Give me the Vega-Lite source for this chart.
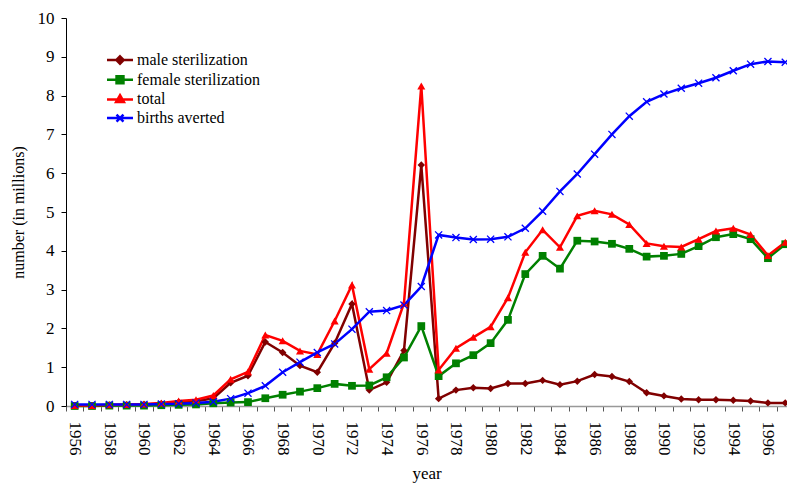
{
  "$schema": "https://vega.github.io/schema/vega-lite/v6.json",
  "width": 721,
  "height": 388,
  "autosize": "none",
  "padding": {"left": 66, "top": 18, "right": 0, "bottom": 78},
  "background": "white",
  "config": {
    "view": {"stroke": null},
    "font": "'Liberation Serif', 'Times New Roman', serif"
  },
  "data": {
    "values": [
      {"year": 1956, "series": "male sterilization", "value": 0.01},
      {"year": 1957, "series": "male sterilization", "value": 0.01},
      {"year": 1958, "series": "male sterilization", "value": 0.02},
      {"year": 1959, "series": "male sterilization", "value": 0.03},
      {"year": 1960, "series": "male sterilization", "value": 0.04},
      {"year": 1961, "series": "male sterilization", "value": 0.06},
      {"year": 1962, "series": "male sterilization", "value": 0.1},
      {"year": 1963, "series": "male sterilization", "value": 0.12},
      {"year": 1964, "series": "male sterilization", "value": 0.2},
      {"year": 1965, "series": "male sterilization", "value": 0.6},
      {"year": 1966, "series": "male sterilization", "value": 0.78},
      {"year": 1967, "series": "male sterilization", "value": 1.65},
      {"year": 1968, "series": "male sterilization", "value": 1.38},
      {"year": 1969, "series": "male sterilization", "value": 1.04},
      {"year": 1970, "series": "male sterilization", "value": 0.87},
      {"year": 1971, "series": "male sterilization", "value": 1.62},
      {"year": 1972, "series": "male sterilization", "value": 2.63},
      {"year": 1973, "series": "male sterilization", "value": 0.41},
      {"year": 1974, "series": "male sterilization", "value": 0.61},
      {"year": 1975, "series": "male sterilization", "value": 1.43},
      {"year": 1976, "series": "male sterilization", "value": 6.21},
      {"year": 1977, "series": "male sterilization", "value": 0.19},
      {"year": 1978, "series": "male sterilization", "value": 0.41},
      {"year": 1979, "series": "male sterilization", "value": 0.47},
      {"year": 1980, "series": "male sterilization", "value": 0.45},
      {"year": 1981, "series": "male sterilization", "value": 0.58},
      {"year": 1982, "series": "male sterilization", "value": 0.58},
      {"year": 1983, "series": "male sterilization", "value": 0.66},
      {"year": 1984, "series": "male sterilization", "value": 0.55},
      {"year": 1985, "series": "male sterilization", "value": 0.64},
      {"year": 1986, "series": "male sterilization", "value": 0.81},
      {"year": 1987, "series": "male sterilization", "value": 0.76},
      {"year": 1988, "series": "male sterilization", "value": 0.63},
      {"year": 1989, "series": "male sterilization", "value": 0.34},
      {"year": 1990, "series": "male sterilization", "value": 0.26},
      {"year": 1991, "series": "male sterilization", "value": 0.18},
      {"year": 1992, "series": "male sterilization", "value": 0.16},
      {"year": 1993, "series": "male sterilization", "value": 0.16},
      {"year": 1994, "series": "male sterilization", "value": 0.15},
      {"year": 1995, "series": "male sterilization", "value": 0.13},
      {"year": 1996, "series": "male sterilization", "value": 0.08},
      {"year": 1997, "series": "male sterilization", "value": 0.08},
      {"year": 1956, "series": "female sterilization", "value": 0.0},
      {"year": 1957, "series": "female sterilization", "value": 0.0},
      {"year": 1958, "series": "female sterilization", "value": 0.01},
      {"year": 1959, "series": "female sterilization", "value": 0.01},
      {"year": 1960, "series": "female sterilization", "value": 0.01},
      {"year": 1961, "series": "female sterilization", "value": 0.02},
      {"year": 1962, "series": "female sterilization", "value": 0.03},
      {"year": 1963, "series": "female sterilization", "value": 0.04},
      {"year": 1964, "series": "female sterilization", "value": 0.07},
      {"year": 1965, "series": "female sterilization", "value": 0.09},
      {"year": 1966, "series": "female sterilization", "value": 0.1},
      {"year": 1967, "series": "female sterilization", "value": 0.2},
      {"year": 1968, "series": "female sterilization", "value": 0.29},
      {"year": 1969, "series": "female sterilization", "value": 0.37},
      {"year": 1970, "series": "female sterilization", "value": 0.46},
      {"year": 1971, "series": "female sterilization", "value": 0.57},
      {"year": 1972, "series": "female sterilization", "value": 0.52},
      {"year": 1973, "series": "female sterilization", "value": 0.53},
      {"year": 1974, "series": "female sterilization", "value": 0.74},
      {"year": 1975, "series": "female sterilization", "value": 1.25},
      {"year": 1976, "series": "female sterilization", "value": 2.06},
      {"year": 1977, "series": "female sterilization", "value": 0.77},
      {"year": 1978, "series": "female sterilization", "value": 1.1},
      {"year": 1979, "series": "female sterilization", "value": 1.31},
      {"year": 1980, "series": "female sterilization", "value": 1.62},
      {"year": 1981, "series": "female sterilization", "value": 2.22},
      {"year": 1982, "series": "female sterilization", "value": 3.4},
      {"year": 1983, "series": "female sterilization", "value": 3.87},
      {"year": 1984, "series": "female sterilization", "value": 3.54},
      {"year": 1985, "series": "female sterilization", "value": 4.26},
      {"year": 1986, "series": "female sterilization", "value": 4.24},
      {"year": 1987, "series": "female sterilization", "value": 4.18},
      {"year": 1988, "series": "female sterilization", "value": 4.05},
      {"year": 1989, "series": "female sterilization", "value": 3.85},
      {"year": 1990, "series": "female sterilization", "value": 3.87},
      {"year": 1991, "series": "female sterilization", "value": 3.92},
      {"year": 1992, "series": "female sterilization", "value": 4.12},
      {"year": 1993, "series": "female sterilization", "value": 4.35},
      {"year": 1994, "series": "female sterilization", "value": 4.43},
      {"year": 1995, "series": "female sterilization", "value": 4.3},
      {"year": 1996, "series": "female sterilization", "value": 3.81},
      {"year": 1997, "series": "female sterilization", "value": 4.17},
      {"year": 1956, "series": "total", "value": 0.01},
      {"year": 1957, "series": "total", "value": 0.01},
      {"year": 1958, "series": "total", "value": 0.03},
      {"year": 1959, "series": "total", "value": 0.04},
      {"year": 1960, "series": "total", "value": 0.05},
      {"year": 1961, "series": "total", "value": 0.08},
      {"year": 1962, "series": "total", "value": 0.13},
      {"year": 1963, "series": "total", "value": 0.16},
      {"year": 1964, "series": "total", "value": 0.27},
      {"year": 1965, "series": "total", "value": 0.69},
      {"year": 1966, "series": "total", "value": 0.88},
      {"year": 1967, "series": "total", "value": 1.83},
      {"year": 1968, "series": "total", "value": 1.68},
      {"year": 1969, "series": "total", "value": 1.42},
      {"year": 1970, "series": "total", "value": 1.33},
      {"year": 1971, "series": "total", "value": 2.19},
      {"year": 1972, "series": "total", "value": 3.12},
      {"year": 1973, "series": "total", "value": 0.95},
      {"year": 1974, "series": "total", "value": 1.36},
      {"year": 1975, "series": "total", "value": 2.65},
      {"year": 1976, "series": "total", "value": 8.25},
      {"year": 1977, "series": "total", "value": 0.93},
      {"year": 1978, "series": "total", "value": 1.49},
      {"year": 1979, "series": "total", "value": 1.77},
      {"year": 1980, "series": "total", "value": 2.04},
      {"year": 1981, "series": "total", "value": 2.79},
      {"year": 1982, "series": "total", "value": 3.96},
      {"year": 1983, "series": "total", "value": 4.54},
      {"year": 1984, "series": "total", "value": 4.09},
      {"year": 1985, "series": "total", "value": 4.9},
      {"year": 1986, "series": "total", "value": 5.03},
      {"year": 1987, "series": "total", "value": 4.94},
      {"year": 1988, "series": "total", "value": 4.68},
      {"year": 1989, "series": "total", "value": 4.19},
      {"year": 1990, "series": "total", "value": 4.12},
      {"year": 1991, "series": "total", "value": 4.1},
      {"year": 1992, "series": "total", "value": 4.3},
      {"year": 1993, "series": "total", "value": 4.51},
      {"year": 1994, "series": "total", "value": 4.58},
      {"year": 1995, "series": "total", "value": 4.42},
      {"year": 1996, "series": "total", "value": 3.88},
      {"year": 1997, "series": "total", "value": 4.22},
      {"year": 1956, "series": "births averted", "value": 0.04},
      {"year": 1957, "series": "births averted", "value": 0.04},
      {"year": 1958, "series": "births averted", "value": 0.04},
      {"year": 1959, "series": "births averted", "value": 0.04},
      {"year": 1960, "series": "births averted", "value": 0.04},
      {"year": 1961, "series": "births averted", "value": 0.05},
      {"year": 1962, "series": "births averted", "value": 0.06},
      {"year": 1963, "series": "births averted", "value": 0.08},
      {"year": 1964, "series": "births averted", "value": 0.11},
      {"year": 1965, "series": "births averted", "value": 0.19},
      {"year": 1966, "series": "births averted", "value": 0.33},
      {"year": 1967, "series": "births averted", "value": 0.52},
      {"year": 1968, "series": "births averted", "value": 0.87},
      {"year": 1969, "series": "births averted", "value": 1.13},
      {"year": 1970, "series": "births averted", "value": 1.38},
      {"year": 1971, "series": "births averted", "value": 1.6},
      {"year": 1972, "series": "births averted", "value": 1.98},
      {"year": 1973, "series": "births averted", "value": 2.43},
      {"year": 1974, "series": "births averted", "value": 2.46},
      {"year": 1975, "series": "births averted", "value": 2.6},
      {"year": 1976, "series": "births averted", "value": 3.08},
      {"year": 1977, "series": "births averted", "value": 4.41},
      {"year": 1978, "series": "births averted", "value": 4.34},
      {"year": 1979, "series": "births averted", "value": 4.29},
      {"year": 1980, "series": "births averted", "value": 4.3},
      {"year": 1981, "series": "births averted", "value": 4.36},
      {"year": 1982, "series": "births averted", "value": 4.58},
      {"year": 1983, "series": "births averted", "value": 5.02},
      {"year": 1984, "series": "births averted", "value": 5.53},
      {"year": 1985, "series": "births averted", "value": 5.98},
      {"year": 1986, "series": "births averted", "value": 6.49},
      {"year": 1987, "series": "births averted", "value": 7.0},
      {"year": 1988, "series": "births averted", "value": 7.47},
      {"year": 1989, "series": "births averted", "value": 7.84},
      {"year": 1990, "series": "births averted", "value": 8.04},
      {"year": 1991, "series": "births averted", "value": 8.19},
      {"year": 1992, "series": "births averted", "value": 8.32},
      {"year": 1993, "series": "births averted", "value": 8.46},
      {"year": 1994, "series": "births averted", "value": 8.64},
      {"year": 1995, "series": "births averted", "value": 8.81},
      {"year": 1996, "series": "births averted", "value": 8.88},
      {"year": 1997, "series": "births averted", "value": 8.86}
    ]
  },
  "encoding": {
    "x": {
      "field": "year",
      "type": "quantitative",
      "scale": {"domain": [1955.5, 1997.1], "nice": false, "zero": false},
      "axis": {
        "title": "year",
        "values": [1956,1957,1958,1959,1960,1961,1962,1963,1964,1965,1966,1967,1968,1969,1970,1971,1972,1973,1974,1975,1976,1977,1978,1979,1980,1981,1982,1983,1984,1985,1986,1987,1988,1989,1990,1991,1992,1993,1994,1995,1996,1997],
        "format": "d",
        "labelExpr": "datum.value % 2 == 0 ? datum.label : ''",
        "tickOffset": -8.66,
        "labelOffset": 8.66,
        "labelAngle": 90,
        "labelAlign": "left",
        "labelBaseline": "middle",
        "labelOverlap": false,
        "labelFlush": false,
        "labelBound": false,
        "labelFont": "'Liberation Serif', 'Times New Roman', serif",
        "labelFontSize": 17,
        "labelColor": "black",
        "labelPadding": 10,
        "tickSize": 5,
        "tickColor": "#555555",
        "tickWidth": 1,
        "domainColor": "#999999",
        "domainWidth": 1.5,
        "grid": false,
        "titleFont": "'Liberation Serif', 'Times New Roman', serif",
        "titleFontSize": 17,
        "titleFontWeight": "normal",
        "titleColor": "black",
        "titlePadding": 10
      }
    },
    "y": {
      "field": "value",
      "type": "quantitative",
      "scale": {"domain": [0, 10], "nice": false},
      "axis": {
        "title": "number (in millions)",
        "values": [0,1,2,3,4,5,6,7,8,9,10],
        "labelFont": "'Liberation Serif', 'Times New Roman', serif",
        "labelFontSize": 17,
        "labelColor": "black",
        "labelPadding": 7,
        "tickSize": 5,
        "tickColor": "black",
        "domainColor": "black",
        "grid": false,
        "titleFont": "'Liberation Serif', 'Times New Roman', serif",
        "titleFontSize": 16,
        "titleFontWeight": "normal",
        "titleColor": "black",
        "titlePadding": 11
      }
    }
  },
  "layer": [
    {
      "mark": {"type": "line", "strokeWidth": 2.5},
      "encoding": {
        "color": {
          "field": "series",
          "type": "nominal",
          "scale": {
            "domain": ["male sterilization", "female sterilization", "total", "births averted"],
            "range": ["#800000", "#008000", "#ff0000", "#0000ff"]
          },
          "legend": {
            "orient": "none",
            "legendX": 44,
            "legendY": 32,
            "title": null,
            "padding": 0,
            "labelFont": "'Liberation Serif', 'Times New Roman', serif",
            "labelFontSize": 16,
            "labelColor": "black",
            "labelOffset": 7,
            "symbolSize": 300,
            "symbolStrokeWidth": 2.5,
            "rowPadding": 0.7
          }
        },
        "order": {"field": "year", "type": "quantitative"}
      }
    },
    {
      "transform": [{"filter": "datum.year < 0"}],
      "mark": {"type": "point", "filled": true, "opacity": 1},
      "encoding": {
        "color": {"field": "series", "type": "nominal"},
        "shape": {
          "field": "series",
          "type": "nominal",
          "scale": {
            "domain": ["male sterilization", "female sterilization", "total", "births averted"],
            "range": [
              "M-1.5,0H1.5M0,-0.42L0.42,0L0,0.42L-0.42,0Z",
              "M-1.5,0H1.5M-0.4,-0.4H0.4V0.4H-0.4Z",
              "M-1.5,0H1.5M0,-0.48L0.45,0.3L-0.45,0.3Z",
              "M-1.5,0H1.5M-0.4,-0.4L0.4,0.4M-0.4,0.4L0.4,-0.4"
            ]
          }
        }
      }
    },
    {
      "transform": [{"filter": "datum.series === 'male sterilization'"}],
      "mark": {"type": "point", "shape": "diamond", "filled": true, "opacity": 1, "color": "#800000", "size": 55}
    },
    {
      "transform": [{"filter": "datum.series === 'female sterilization'"}],
      "mark": {"type": "point", "shape": "square", "filled": true, "opacity": 1, "color": "#008000", "size": 60}
    },
    {
      "transform": [{"filter": "datum.series === 'total'"}],
      "mark": {"type": "point", "shape": "triangle-up", "filled": true, "opacity": 1, "color": "#ff0000", "size": 65}
    },
    {
      "transform": [{"filter": "datum.series === 'births averted'"}],
      "mark": {"type": "point", "shape": "M-1,-1L1,1M-1,1L1,-1", "filled": false, "opacity": 1, "color": "#0000ff", "strokeWidth": 1.3, "size": 50}
    }
  ]
}
